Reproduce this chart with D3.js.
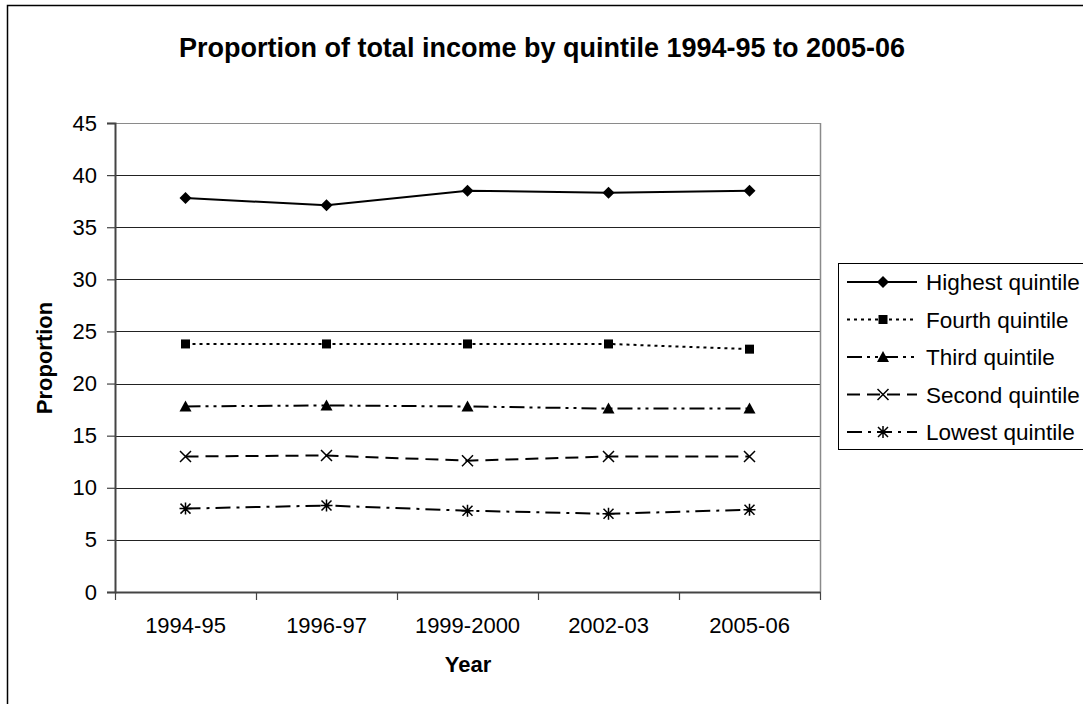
<!DOCTYPE html>
<html>
<head>
<meta charset="utf-8">
<script src="https://cdn.jsdelivr.net/npm/d3@7"></script>
<style>
  html, body { margin: 0; padding: 0; background: #fff; }
  svg { display: block; font-family: "Liberation Sans", Arial, sans-serif; }
</style>
</head>
<body>
<svg id="chart" width="1083" height="704"></svg>
<script>
// Income share by quintile (%)
const years = ["1994-95", "1996-97", "1999-2000", "2002-03", "2005-06"];
const highest = [37.8, 37.1, 38.5, 38.3, 38.5];
const fourth  = [23.8, 23.8, 23.8, 23.8, 23.3];
const third   = [17.8, 17.9, 17.8, 17.6, 17.6];
const second  = [13.0, 13.1, 12.6, 13.0, 13.0];
const lowest  = [8.0, 8.3, 7.8, 7.5, 7.9];
const yTicks  = [0, 5, 10, 15, 20, 25, 30, 35, 40, 45];

const series = [
  { name: "Highest quintile", values: highest, dash: null,              marker: "diamond" },
  { name: "Fourth quintile",  values: fourth,  dash: "3,4",             marker: "square" },
  { name: "Third quintile",   values: third,   dash: "15,5,3,5,3,5",    marker: "triangle" },
  { name: "Second quintile",  values: second,  dash: "13,7",            marker: "x" },
  { name: "Lowest quintile",  values: lowest,  dash: "15,6,3,6",        marker: "star" }
];

const svg = d3.select("#chart");
const plot = { left: 115, right: 820, top: 123, bottom: 592 };
const FONT = "Liberation Sans, Arial, sans-serif";

// Outer chart frame (only top and left edges fall inside the view)
svg.append("path")
  .attr("d", "M7.5,704 L7.5,5.5 L1083,5.5")
  .attr("fill", "none").attr("stroke", "#000").attr("stroke-width", 1.5);

const x = d3.scaleBand().domain(years).range([plot.left, plot.right]);
const y = d3.scaleLinear().domain([0, 45]).range([plot.bottom, plot.top]);

// Horizontal gridlines
svg.append("g").selectAll("line").data(yTicks.filter(d => d > 0)).join("line")
  .attr("x1", plot.left).attr("x2", plot.right)
  .attr("y1", d => Math.round(y(d)) + 0.5).attr("y2", d => Math.round(y(d)) + 0.5)
  .attr("stroke", d => d === 45 ? "#8a8a8a" : "#222").attr("stroke-width", 1);

// Right edge of plot area
svg.append("line")
  .attr("x1", plot.right + 0.5).attr("x2", plot.right + 0.5)
  .attr("y1", plot.top).attr("y2", plot.bottom)
  .attr("stroke", "#8a8a8a").attr("stroke-width", 1.5);

// Y axis
const yAxis = svg.append("g")
  .attr("transform", `translate(${plot.left},0)`)
  .call(d3.axisLeft(y).tickValues(yTicks).tickSize(8).tickPadding(10));
yAxis.select(".domain").attr("stroke", "#444").attr("stroke-width", 2);
yAxis.selectAll(".tick line").attr("stroke", "#444").attr("stroke-width", 1.2);
yAxis.selectAll(".tick text").attr("font-size", 22).attr("fill", "#000")
  .attr("font-family", FONT);

// X axis with ticks at category boundaries
const xAxis = svg.append("g")
  .attr("transform", `translate(0,${plot.bottom})`)
  .call(d3.axisBottom(x).tickSize(0).tickPadding(25));
xAxis.select(".domain").attr("stroke", "#444").attr("stroke-width", 2);
xAxis.selectAll(".tick text").attr("font-size", 22).attr("fill", "#000")
  .attr("font-family", FONT);
const bounds = years.map(d => x(d)).concat([x(years[years.length - 1]) + x.bandwidth()]);
svg.append("g").selectAll("line").data(bounds).join("line")
  .attr("x1", d => Math.round(d) + 0.5).attr("x2", d => Math.round(d) + 0.5)
  .attr("y1", plot.bottom).attr("y2", plot.bottom + 8)
  .attr("stroke", "#444").attr("stroke-width", 1.2);

// Marker drawing
function drawMarker(g, type, cx, cy) {
  if (type === "diamond") {
    g.append("path").attr("d", `M${cx},${cy - 6}L${cx + 6},${cy}L${cx},${cy + 6}L${cx - 6},${cy}Z`).attr("fill", "#000");
  } else if (type === "square") {
    g.append("rect").attr("x", cx - 4.5).attr("y", cy - 4.5).attr("width", 9).attr("height", 9).attr("fill", "#000");
  } else if (type === "triangle") {
    g.append("path").attr("d", `M${cx},${cy - 6}L${cx + 6},${cy + 5}L${cx - 6},${cy + 5}Z`).attr("fill", "#000");
  } else if (type === "x") {
    g.append("path").attr("d", `M${cx - 5.5},${cy - 5.5}L${cx + 5.5},${cy + 5.5}M${cx - 5.5},${cy + 5.5}L${cx + 5.5},${cy - 5.5}`)
      .attr("stroke", "#000").attr("stroke-width", 1.5);
  } else if (type === "star") {
    g.append("path").attr("d", `M${cx - 5},${cy - 5}L${cx + 5},${cy + 5}M${cx - 5},${cy + 5}L${cx + 5},${cy - 5}M${cx},${cy - 6}L${cx},${cy + 6}M${cx - 6},${cy}L${cx + 6},${cy}`)
      .attr("stroke", "#000").attr("stroke-width", 1.5);
  }
}

const line = d3.line()
  .x((d, i) => x(years[i]) + x.bandwidth() / 2)
  .y(d => y(d));

series.forEach(s => {
  const g = svg.append("g");
  g.append("path").datum(s.values)
    .attr("d", line).attr("fill", "none")
    .attr("stroke", "#000").attr("stroke-width", 2)
    .attr("stroke-dasharray", s.dash);
  s.values.forEach((v, i) => drawMarker(g, s.marker, x(years[i]) + x.bandwidth() / 2, y(v)));
});

// Title and axis titles
svg.append("text").attr("x", 542).attr("y", 57).attr("text-anchor", "middle")
  .attr("font-size", 27).attr("font-weight", "bold")
  .text("Proportion of total income by quintile 1994-95 to 2005-06");
svg.append("text").attr("x", 468).attr("y", 672).attr("text-anchor", "middle")
  .attr("font-size", 22).attr("font-weight", "bold").text("Year");
svg.append("text").attr("transform", "translate(52,358) rotate(-90)")
  .attr("text-anchor", "middle").attr("font-size", 22).attr("font-weight", "bold")
  .text("Proportion");

// Legend
const legend = svg.append("g");
legend.append("rect").attr("x", 838.5).attr("y", 263.5).attr("width", 260).attr("height", 186)
  .attr("fill", "#fff").attr("stroke", "#000").attr("stroke-width", 1);
series.forEach((s, i) => {
  const ly = 282 + i * 37.5;
  legend.append("line").attr("x1", 847).attr("x2", 917).attr("y1", ly).attr("y2", ly)
    .attr("stroke", "#000").attr("stroke-width", 2).attr("stroke-dasharray", s.dash);
  drawMarker(legend, s.marker, 883, ly);
  legend.append("text").attr("x", 926).attr("y", ly + 8).attr("font-size", 22.5)
    .text(s.name);
});
</script>
</body>
</html>
